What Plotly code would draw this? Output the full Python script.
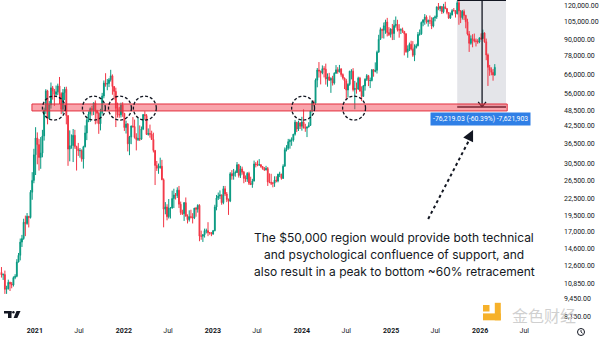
import math
import pandas as pd
import plotly.graph_objects as go

# ---- Weekly BTC/USD candles (Monday-start weeks), USD ----
first_week = "2020-08-17"
first_open = 11900

close_2020 = [11650, 11680, 10280, 10330, 10920, 10780, 10670, 11380, 11500, 13030,
              13800, 15480, 15960, 18400, 18180, 19370, 19150, 23870, 26440, 33000]
high_2020 = [12470, 11800, 12090, 10600, 11180, 10980, 10950, 11500, 11720, 13350,
             14090, 15970, 16480, 18960, 19480, 19920, 19420, 24300, 28400, 34780]
low_2020 = [11380, 11150, 9880, 9880, 10260, 10130, 10370, 10530, 11220, 11410,
            12980, 13210, 14840, 15800, 16300, 18000, 17580, 19000, 22350, 25800]

close_2021 = [38180, 36070, 32260, 33500, 38900, 48600, 57500, 45200, 50900, 59000,
              57400, 55800, 57000, 60000, 56150, 49000, 56600, 58300, 46400, 34700,
              35700, 35800, 39100, 35500, 34700, 34200, 34250, 31800, 35400, 39900,
              44600, 47000, 49300, 48800, 51800, 48300, 47300, 43200, 47700, 55000,
              61500, 60900, 61300, 63300, 65500, 59700, 57200, 49400, 46700, 46700,
              50800, 47300]
high_2021 = [41950, 40100, 37850, 38500, 41000, 49700, 58350, 58000, 52600, 61800,
             60000, 58450, 60200, 61200, 64850, 56800, 58400, 59500, 59600, 46400,
             40800, 39400, 41300, 41000, 35700, 36600, 35000, 34600, 35700, 42600,
             45300, 48100, 49800, 50500, 51900, 52900, 48800, 48000, 49200, 56500,
             62900, 67000, 63700, 64300, 69000, 66300, 59300, 59100, 51900, 50000,
             51900, 52100]
low_2021 = [27700, 30400, 28800, 29240, 32300, 37350, 47100, 43000, 44950, 49300,
            53270, 50430, 54950, 55400, 51300, 47000, 47200, 53000, 43000, 30000,
            31200, 34800, 31000, 34800, 28800, 32700, 32200, 31100, 29300, 35200,
            37500, 43800, 43900, 46400, 46600, 43000, 43300, 39600, 40800, 46900,
            53900, 59600, 57800, 59400, 62300, 55600, 53300, 42000, 45600, 45500,
            45600, 45900]

close_2022 = [41800, 43100, 36300, 38500, 42400, 42200, 38400, 37700, 38000, 37800,
              41300, 46800, 46400, 39400, 39700, 39500, 37700, 34300, 30100, 29400,
              29500, 29900, 26600, 20600, 21000, 19300, 20800, 20800, 22600, 23300,
              23200, 24300, 21500, 20000, 19800, 21800, 19400, 18800, 19300, 19200,
              19100, 20800, 20600, 21300, 16300, 16300, 16500, 17100, 17100, 16800,
              16800, 16600]
high_2022 = [47500, 44400, 43500, 38900, 42500, 45800, 44800, 39800, 45400, 42600,
             42200, 47000, 48200, 47000, 41500, 42900, 40700, 40000, 34300, 31300,
             30600, 32200, 31600, 26900, 21900, 21500, 22500, 21000, 24200, 24600,
             23700, 24900, 25200, 22000, 20500, 21900, 22800, 19700, 20400, 20500,
             19900, 20800, 21000, 21500, 21500, 17100, 16600, 17400, 17400, 18400,
             16900, 16900]
low_2022 = [40600, 39700, 34000, 32900, 36200, 41700, 38000, 34300, 37200, 37200,
            37600, 40900, 44600, 39200, 39000, 38300, 37600, 33700, 25400, 28700,
            28000, 29300, 26500, 17600, 19700, 18700, 19000, 19000, 20700, 20800,
            22400, 22700, 20800, 19600, 19600, 18600, 19300, 18200, 18500, 19000,
            18200, 18900, 19300, 20000, 15600, 15800, 15500, 16100, 16700, 16300,
            16500, 16300]

close_2023 = [17100, 21000, 22700, 23100, 23300, 21800, 24600, 23500, 22400, 22100,
              28000, 27500, 28200, 28300, 30300, 27600, 29200, 28400, 26900, 26750,
              28100, 25800, 25500, 26300, 30500, 30300, 30200, 30300, 29800, 29300,
              29000, 29300, 26100, 26000, 25800, 25800, 26500, 26300, 27900, 27900,
              26900, 29900, 34500, 35000, 37000, 37400, 37500, 39500, 43800, 41300,
              43600, 42300]
high_2023 = [17200, 21400, 23300, 23800, 24250, 23400, 25200, 25200, 23900, 22600,
             28400, 28900, 29200, 28800, 31000, 30500, 30000, 29800, 28700, 27600,
             28400, 28500, 27300, 26800, 31400, 31000, 31400, 31800, 30400, 29900,
             29700, 30000, 29700, 28100, 28000, 26100, 27400, 27400, 28000, 28500,
             28000, 30400, 35200, 35900, 37900, 37900, 38400, 39500, 44700, 43900,
             44400, 43700]
low_2023 = [16500, 17000, 20400, 22300, 22500, 21400, 21500, 23100, 21900, 19600,
            21900, 26600, 26600, 27300, 28200, 27100, 27000, 27800, 25800, 26100,
            26100, 25400, 25400, 24800, 26200, 29600, 29900, 30000, 29500, 29000,
            28700, 28800, 25200, 25800, 25400, 24900, 25000, 26000, 26000, 27200,
            26600, 26800, 29800, 34000, 34500, 34800, 35700, 37000, 39000, 40200,
            40600, 41300]

close_2024 = [43900, 41700, 41600, 42000, 42600, 48300, 52100, 51700, 63100, 68900,
              68300, 67200, 69700, 69400, 63700, 64900, 63100, 64000, 61500, 67000,
              69000, 67800, 69600, 66200, 64300, 62700, 57900, 60800, 68200, 68200,
              58100, 58700, 58400, 64200, 57300, 54800, 60000, 63600, 65600, 62800,
              62900, 69000, 68000, 68700, 80400, 89900, 97900, 97200, 101100, 104500,
              95300, 93700, 98300]
high_2024 = [45900, 49000, 43200, 42200, 43800, 48600, 52900, 52900, 64000, 70100,
             73800, 68400, 71700, 71200, 72800, 66900, 67200, 64700, 65500, 67500,
             71900, 70600, 72000, 69800, 66900, 64500, 63800, 61400, 68400, 69400,
             70000, 62700, 61800, 65000, 64900, 59800, 60500, 64100, 66500, 66000,
             64500, 69500, 69500, 73600, 81500, 93500, 99600, 98700, 104000, 106600,
             108300, 99900, 98900]
low_2024 = [40700, 41500, 40300, 38500, 41900, 42500, 47700, 50600, 50900, 59300,
            64500, 60800, 66400, 64600, 60700, 59600, 62600, 56500, 60200, 60700,
            66600, 66700, 67500, 65000, 63400, 58400, 53500, 54300, 60100, 63500,
            57200, 49000, 56100, 57900, 57200, 52600, 54600, 57600, 62700, 59900,
            58900, 62400, 65000, 67500, 66800, 80200, 89400, 90800, 90500, 94300,
            92200, 92500, 91300]

close_2025 = [94500, 101300, 102400, 97700, 97500, 97600, 96300, 94300, 80700, 82600,
              86100, 82500, 78300, 83700, 85100, 93800, 94300, 104100, 106500, 109000,
              104600, 105700, 105500, 100900, 108400, 109200, 119100, 117300, 119400, 114200,
              119300, 117400, 113500, 108200, 111100, 115300, 115200, 112200, 123500, 115000,
              108600, 114500, 110600, 104700, 94200, 86800, 90400, 90000, 88500, 88400,
              87800, 91000]
high_2025 = [102700, 106400, 109600, 106500, 102500, 98900, 99500, 96500, 94800, 85300,
             87400, 88800, 88500, 86100, 86500, 95800, 97900, 104900, 106700, 111900,
             110700, 106800, 110500, 108900, 108500, 110500, 119500, 123200, 120200, 119800,
             122300, 124500, 117600, 113500, 113400, 116800, 117900, 115500, 125600, 126219,
             115900, 116000, 116400, 111200, 107500, 96600, 93000, 94000, 94500, 90500,
             90000, 91500]
low_2025 = [89300, 89400, 99500, 96200, 91200, 94100, 95000, 78200, 80000, 76600,
            81200, 81600, 77200, 74400, 83000, 84600, 92800, 93400, 100700, 102000,
            103000, 100400, 102700, 98200, 99700, 105100, 107400, 115700, 114700, 112000,
            112700, 116800, 111700, 107300, 107300, 110600, 114700, 108600, 111600, 102000,
            103500, 106700, 106300, 98900, 93000, 80600, 85800, 83900, 87500, 84500,
            86500, 86900]

close_2026 = [90500, 95000, 88000, 78500, 70500, 68800, 67500, 66000, 70500]
high_2026 = [94700, 97800, 95500, 90500, 79500, 72000, 70500, 69500, 72500]
low_2026 = [89300, 90200, 87300, 75000, 60000, 65500, 65800, 62800, 65500]

# ---- Levels and annotations ----
cycle_high = 126219.03
support_level = 50000
support_zone = (48300, 51300)
touch_dates = ["2021-03-20", "2021-08-31", "2021-12-16", "2022-03-28",
               "2024-01-06", "2024-08-02"]
touch_price = 49500
price_ticks = [120000, 105000, 90000, 78000, 66000, 56000, 48500, 42500, 36500,
               30500, 26500, 22500, 19500, 17000, 14600, 12600, 10850, 9450, 8150]
time_ticks = ["2021-01-01", "2021-07-01", "2022-01-01", "2022-07-01", "2023-01-01",
              "2023-07-01", "2024-01-01", "2024-07-01", "2025-01-01", "2025-07-01",
              "2026-01-01", "2026-07-01"]
time_labels = ["<b>2021</b>", "Jul", "<b>2022</b>", "Jul", "<b>2023</b>", "Jul",
               "<b>2024</b>", "Jul", "<b>2025</b>", "Jul", "<b>2026</b>", "Jul"]
note_lines = ["The $50,000 region would provide both technical",
              "and psychological confluence of support, and",
              "also result in a peak to bottom ~60% retracement"]

closes = close_2020 + close_2021 + close_2022 + close_2023 + close_2024 + close_2025 + close_2026
highs = high_2020 + high_2021 + high_2022 + high_2023 + high_2024 + high_2025 + high_2026
lows = low_2020 + low_2021 + low_2022 + low_2023 + low_2024 + low_2025 + low_2026
opens = [first_open] + closes[:-1]          # each week opens at the prior close
weeks = pd.date_range(first_week, periods=len(closes), freq="7D")

GREEN = "#089981"
RED = "#F23645"
INK = "#131722"

W, H = 600, 337
ML, MR, MT, MB = 0, 45, 0, 15
PW, PH = W - ML - MR, H - MT - MB


def px(x):
    return x / PW


def py(y):
    return 1 - y / PH


fig = go.Figure()
fig.add_trace(go.Candlestick(
    x=weeks, open=opens, high=highs, low=lows, close=closes,
    increasing=dict(line=dict(color=GREEN, width=1), fillcolor=GREEN),
    decreasing=dict(line=dict(color=RED, width=1), fillcolor=RED),
    whiskerwidth=0, hoverinfo="skip", showlegend=False,
))

shapes = []
# measured drop: shaded range from the cycle high down to $50k
shapes.append(dict(type="rect", xref="x", yref="y", x0="2025-09-29", x1="2026-04-17",
                   y0=support_level, y1=cycle_high, fillcolor="#e4e5e9",
                   line=dict(width=0), layer="below"))
for lvl in (cycle_high, support_level):
    shapes.append(dict(type="line", xref="x", yref="y", x0="2025-09-29", x1="2026-04-17",
                       y0=lvl, y1=lvl, line=dict(color=INK, width=1.4), layer="above"))
shapes.append(dict(type="line", xref="x", yref="y", x0="2026-01-09", x1="2026-01-09",
                   y0=cycle_high, y1=support_level, line=dict(color=INK, width=1.3)))
# chevron at the bottom of the drop arrow
chev = 10 ** (5 / 265.46)
shapes.append(dict(type="line", xref="x", yref="y", x0="2025-12-24", x1="2026-01-09",
                   y0=support_level * chev, y1=support_level, line=dict(color=INK, width=1.3)))
shapes.append(dict(type="line", xref="x", yref="y", x0="2026-01-25", x1="2026-01-09",
                   y0=support_level * chev, y1=support_level, line=dict(color=INK, width=1.3)))

# support zone band
shapes.append(dict(type="rect", xref="x", yref="y", x0="2020-12-20", x1="2026-04-22",
                   y0=support_zone[0], y1=support_zone[1],
                   fillcolor="rgba(242,54,69,0.45)",
                   line=dict(color="#e3303f", width=1), layer="above"))

# dashed circles around each retest of the zone
half_days = pd.Timedelta(days=47)
vr = 10 ** 0.045
for d in touch_dates:
    c = pd.Timestamp(d)
    shapes.append(dict(type="circle", xref="x", yref="y",
                       x0=c - half_days, x1=c + half_days,
                       y0=touch_price / vr, y1=touch_price * vr,
                       line=dict(color=INK, width=1.3, dash="3px,2px"), layer="above"))

# dotted pointer from the note to the label
shapes.append(dict(type="line", xref="x", yref="y", x0="2025-06-02", x1="2025-11-22",
                   y0=18920, y1=38300, line=dict(color=INK, width=2, dash="dot")))

# TradingView mark
shapes.append(dict(type="rect", xref="paper", yref="paper", x0=px(4), x1=px(11.5),
                   y0=py(313.5), y1=py(311), fillcolor=INK, line=dict(width=0)))
shapes.append(dict(type="rect", xref="paper", yref="paper", x0=px(8), x1=px(11.5),
                   y0=py(318), y1=py(311), fillcolor=INK, line=dict(width=0)))
shapes.append(dict(type="circle", xref="paper", yref="paper", x0=px(12.2), x1=px(14.6),
                   y0=py(313.4), y1=py(311), fillcolor=INK, line=dict(width=0)))
shapes.append(dict(type="path", xref="paper", yref="paper",
                   path=f"M{px(16.5)},{py(311)} L{px(20.5)},{py(311)} L{px(17.3)},{py(318)} "
                        f"L{px(13.6)},{py(318)} Z",
                   fillcolor=INK, line=dict(width=0)))

# watermark logo blocks
GOLD = "#F6B12A"
for x0, x1, y0, y1 in [(483, 489.5, 305, 311.5), (494.8, 500.8, 302.8, 320.3),
                       (483, 500.8, 313.4, 320.3)]:
    shapes.append(dict(type="rect", xref="paper", yref="paper", x0=px(x0), x1=px(x1),
                       y0=py(y1), y1=py(y0), fillcolor=GOLD, line=dict(width=0),
                       layer="above"))

# clock icon on the time scale
shapes.append(dict(type="circle", xref="paper", yref="paper", x0=px(577.5), x1=px(584.5),
                   y0=py(335.5), y1=py(328.5), line=dict(color=INK, width=1)))
shapes.append(dict(type="path", xref="paper", yref="paper",
                   path=f"M{px(581)},{py(330)} L{px(581)},{py(332)} L{px(582.6)},{py(333.3)}",
                   line=dict(color=INK, width=0.9)))

annotations = []
# measured move label
annotations.append(dict(
    x="2026-01-01", y=math.log10(45230), xref="x", yref="y",
    text=f"-{cycle_high - support_level:,.2f} (-{(cycle_high - support_level) / cycle_high * 100:.2f}%) -7,621,903",
    showarrow=False, font=dict(family="Roboto", size=6.8, color="white"),
    bgcolor="#2f7fe6", borderpad=2, xanchor="center", yanchor="middle"))
# arrowhead of the dotted pointer
annotations.append(dict(
    x="2025-12-03", y=math.log10(40940), xref="x", yref="y",
    ax=-4, ay=8, axref="pixel", ayref="pixel", text="", showarrow=True,
    arrowhead=2, arrowsize=1.1, arrowwidth=2, arrowcolor=INK))
# commentary
for i, line in enumerate(note_lines):
    annotations.append(dict(
        x=px(394), y=py(237 + 17 * i), xref="paper", yref="paper", text=line,
        showarrow=False, xanchor="center", yanchor="middle",
        font=dict(family="Inter", size=12, color=INK)))
# watermark text
annotations.append(dict(
    x=px(544), y=py(315), xref="paper", yref="paper", text="金色财经", showarrow=False,
    xanchor="center", yanchor="middle",
    font=dict(family="Noto Sans CJK SC", size=16, color="rgba(200,200,200,0.85)")))

y_top = 5.1019
y_bot = 3.8888

fig.update_layout(
    width=W, height=H, margin=dict(l=ML, r=MR, t=MT, b=MB),
    paper_bgcolor="white", plot_bgcolor="white",
    shapes=shapes, annotations=annotations, showlegend=False,
    font=dict(family="Roboto", color=INK),
    xaxis=dict(type="date", range=["2020-08-11", "2026-11-04"],
               rangeslider=dict(visible=False), showgrid=False, zeroline=False,
               showline=False, ticks="", tickvals=time_ticks, ticktext=time_labels,
               tickfont=dict(size=7, color=INK), ticklabelstandoff=3),
    yaxis=dict(type="log", range=[y_bot, y_top], side="right", showgrid=False,
               zeroline=False, showline=False, ticks="",
               tickvals=price_ticks, ticktext=[f"{v:,.2f}" for v in price_ticks],
               tickfont=dict(size=7, color=INK), ticklabelstandoff=8),
)

fig.write_html("out.html", config={"displayModeBar": False})
